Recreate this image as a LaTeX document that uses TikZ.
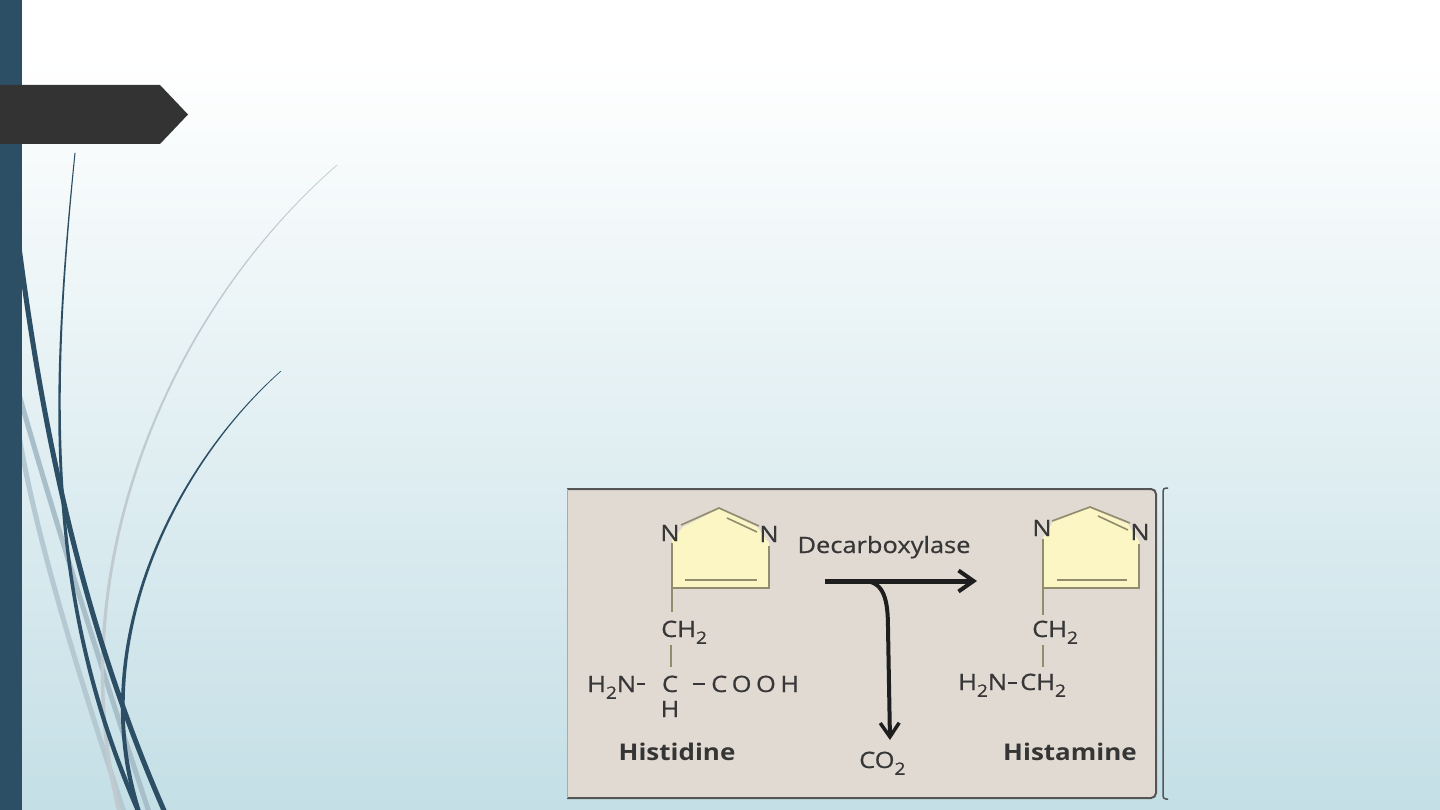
\documentclass[tikz,border=0pt]{standalone}
\usepackage{fontspec}
\setmainfont{Open Sans}[FakeStretch=1.13]
\newfontfamily\chemfont{Open Sans}[FakeStretch=1.13, FakeBold=0.6]
\usetikzlibrary{arrows.meta}
\definecolor{bgb}{RGB}{196,223,230}
\definecolor{barc}{RGB}{44,79,101}
\definecolor{lightA}{RGB}{168,190,201}
\definecolor{lightB}{RGB}{180,201,210}
\definecolor{lightC}{RGB}{192,202,207}
\definecolor{tagc}{RGB}{51,51,51}
\definecolor{boxfill}{RGB}{225,218,211}
\definecolor{boxline}{RGB}{85,85,85}
\definecolor{ringfill}{RGB}{251,246,196}
\definecolor{bondc}{RGB}{145,140,108}
\definecolor{txtc}{RGB}{55,55,55}
\definecolor{arrc}{RGB}{30,30,30}
\newcommand\chemsub[1]{\raisebox{-0.3em}{\fontsize{17}{17}\selectfont #1}}
\tikzset{
  chem/.style={inner sep=0pt, text=txtc, font=\chemfont\fontsize{22.5}{26}\selectfont},
  atom/.style={chem, anchor=center},
  namelbl/.style={inner sep=0pt, text=arrc!90!white, font=\fontsize{23}{27}\selectfont\bfseries, anchor=base},
  bond/.style={draw=bondc, line width=1.6pt},
  hbond/.style={draw=txtc, line width=1.6pt},
  react/.style={draw=arrc, line width=5pt, -{Straight Barb[length=15pt,width=21pt,line width=4pt]}},
  release/.style={draw=arrc, line width=4pt, -{Straight Barb[length=14pt,width=19pt,line width=3.5pt]}}
}
\begin{document}
\begin{tikzpicture}[x=1pt,y=-1pt]
\useasboundingbox (0,0) rectangle (1440,810);
\clip (0,0) rectangle (1440,810);
% background
\fill[white] (0,0) rectangle (1440,810);
\shade[top color=white, bottom color=bgb] (0,60) rectangle (1440,810);
% light curves
\draw[lightA, line width=5pt] (15,380) .. controls (40,470) and (95,650) .. (150,815);
\draw[lightB, line width=5pt] (15,410) .. controls (30,520) and (80,680) .. (125,815);
\fill[lightC] (336.5,165) .. controls (159,320) and (58.5,580) .. (118,815) -- (122,815) .. controls (61.5,580) and (161,320) .. (337.5,165) -- cycle;
% dark curves
\draw[barc, line width=5pt] (15,215) .. controls (40,420) and (80,620) .. (166,815);
\fill[barc] (74.5,153) .. controls (48.85,400) and (43.15,600) .. (137.5,815) -- (142.5,815) .. controls (46.85,600) and (51.15,400) .. (75.5,153) -- cycle;
\fill[barc] (280.5,371) .. controls (168.9,470) and (83.3,650) .. (137.75,815) -- (142.25,815) .. controls (86.7,650) and (171.1,470) .. (281.5,371) -- cycle;
% left bar and tag
\fill[barc] (0,0) rectangle (22,810);
\fill[tagc] (0,85) -- (160,85) -- (188,114.5) -- (160,144) -- (0,144) -- cycle;
% image box
\fill[boxfill, rounded corners=5pt] (567,489) rectangle (1156,798);
\draw[boxline, line width=2pt, rounded corners=5pt] (567,489) -- (1156,489) -- (1156,798) -- (567,798);
\draw[boxline!50!white, line width=1pt] (567,489) -- (567,798);
\draw[boxline, line width=1.5pt, rounded corners=3pt] (1168,488) -- (1163,488) -- (1163,799) -- (1168,799);
% ---------- Histidine ----------
\fill[ringfill] (672,540) -- (683,527) -- (719,509) -- (757,527) -- (769,543) -- (769,588) -- (672,588) -- cycle;
\node[atom] (hdN1) at (670,533) {N};
\node[atom] (hdN2) at (769,534) {N};
\coordinate (hdA) at (719,508);
\coordinate (hdBL) at (672,588);
\coordinate (hdBR) at (769,588);
\draw[bond] (681,525) -- (hdA) -- (759,526);
\draw[bond] (727,518) -- (757,532);
\draw[bond] (672,543) -- (hdBL) -- (hdBR) -- (769,546);
\draw[bond] (685,580) -- (757,580);
\node[chem, anchor=base west] (hdCH2) at (661,637) {CH\chemsub{2}};
\draw[bond] (hdBL) -- (672,612);
\draw[bond] (671,645) -- (671,667);
\node[chem, anchor=base west] (hdH2N) at (587,692) {H\chemsub{2}N};
\node[chem, anchor=base] (hdC) at (670,692) {C};
\node[chem, anchor=base] (hdH) at (670,717) {H};
\node[chem, anchor=base west] (hdCOOH) at (711,692) {C\hspace{4.5pt}O\hspace{4.5pt}O\hspace{4.5pt}H};
\draw[hbond] (637,684) -- (645,684);
\draw[hbond] (693,684) -- (705,684);
\node[namelbl] (hdName) at (677,760) {Histidine};
% ---------- reaction arrows ----------
\node[chem, anchor=base] (enz) at (884,553) {Decarboxylase};
\coordinate (rS) at (825,581);
\coordinate (rE) at (977,581);
\coordinate (cS) at (866,581);
\coordinate (cE) at (890,740);
\draw[react] (rS) -- (rE);
\draw[release] (cS) .. controls (884,583) and (888,600) .. (888,628) -- (cE);
\node[chem, anchor=base west] (co2) at (859,768) {CO\chemsub{2}};
% ---------- Histamine ----------
\fill[ringfill] (1043,538) -- (1053,522) -- (1090,508) -- (1128,524) -- (1139,541) -- (1139,588) -- (1043,588) -- cycle;
\node[atom] (hmN1) at (1042,528) {N};
\node[atom] (hmN2) at (1140,532) {N};
\coordinate (hmA) at (1090,507);
\coordinate (hmBL) at (1043,588);
\coordinate (hmBR) at (1139,588);
\draw[bond] (1052,521) -- (hmA) -- (1130,523);
\draw[bond] (1098,516) -- (1128,530);
\draw[bond] (1043,539) -- (hmBL) -- (hmBR) -- (1139,544);
\draw[bond] (1057,580) -- (1127,580);
\draw[bond] (hmBL) -- (1043,615);
\node[chem, anchor=base west] (hmCH2a) at (1032,637) {CH\chemsub{2}};
\draw[bond] (1043,645) -- (1043,667);
\node[chem, anchor=base west] (hmH2N) at (958,690) {H\chemsub{2}N};
\draw[hbond] (1008,683) -- (1017,683);
\node[chem, anchor=base west] (hmCH2b) at (1020,690) {CH\chemsub{2}};
\node[namelbl] (hmName) at (1070,760) {Histamine};
\end{tikzpicture}
\end{document}
